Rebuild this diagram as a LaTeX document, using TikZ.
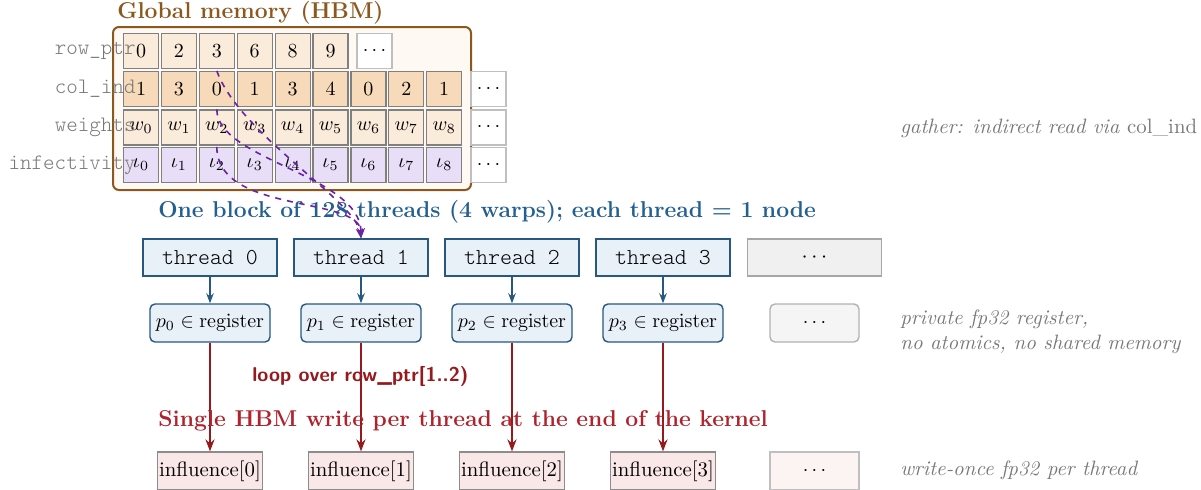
\documentclass[tikz,border=0pt]{standalone}
\usetikzlibrary{arrows.meta}

\definecolor{hbmbrown}{RGB}{140,88,30}
\definecolor{hbmfill}{RGB}{254,249,243}
\definecolor{ptrfill}{RGB}{250,235,218}
\definecolor{colfill}{RGB}{247,218,186}
\definecolor{inffill}{RGB}{233,222,248}
\definecolor{cellgray}{RGB}{128,128,128}
\definecolor{thrblue}{RGB}{38,88,128}
\definecolor{thrfill}{RGB}{232,240,248}
\definecolor{titleblue}{RGB}{35,95,145}
\definecolor{writered}{RGB}{150,25,30}
\definecolor{titlered}{RGB}{175,35,45}
\definecolor{gatherpurple}{RGB}{105,35,165}
\definecolor{notegray}{RGB}{120,120,120}
\definecolor{outfill}{RGB}{250,232,232}

\newcommand{\lighttt}{\ttfamily\fontseries{l}\selectfont}

\begin{document}
\fontsize{10.4}{12.5}\selectfont
\begin{tikzpicture}[x=0.5pt, y=-0.5pt,
		cell/.style={draw=cellgray, line width=0.6pt, minimum width=17.5pt, minimum height=17.5pt, inner sep=0pt},
		dotcell/.style={draw=black!25, fill=white, line width=0.6pt, minimum width=17.5pt, minimum height=17.5pt, inner sep=0pt},
		rowlabel/.style={anchor=east, inner sep=0pt, text=notegray, font=\fontsize{11}{13}\lighttt},
		thread/.style={draw=thrblue, fill=thrfill, line width=0.7pt, minimum width=67pt, minimum height=18.5pt, font=\fontsize{11.4}{13}\lighttt},
		reg/.style={draw=thrblue, fill=thrfill, rounded corners=2.5pt, line width=0.7pt, minimum width=60pt, minimum height=19pt, inner sep=1pt},
		outbox/.style={draw=black!45, fill=outfill, line width=0.6pt, minimum width=52.5pt, minimum height=19pt, inner sep=1pt},
		note/.style={anchor=west, text=notegray, font=\fontsize{10.4}{12.5}\itshape, align=left},
		heading/.style={anchor=west, font=\fontsize{11.45}{13.5}\selectfont\bfseries},
		gather/.style={gatherpurple, dashed, line width=0.8pt, -{Stealth[length=5pt]}}]
	\useasboundingbox (0,0) rectangle (1201,489);

	\draw [hbmbrown, fill=hbmfill, rounded corners=3pt, line width=1pt] (113,27) rectangle (471,190);
	\node [heading, text=hbmbrown] (hbm) at (110,13) {Global memory (HBM)};

	\foreach \v [count=\i from 0] in {0,2,3,6,8,9}
		\node [cell, fill=ptrfill] (rp\i) at (141+37.9*\i, 51) {$\v$};
	\foreach \v [count=\i from 0] in {1,3,0,1,3,4,0,2,1}
		\node [cell, fill=colfill] (ci\i) at (141+37.9*\i, 89) {$\v$};
	\foreach \i in {0,...,8}
		\node [cell, fill=ptrfill] (wt\i) at (141+37.9*\i, 127.5) {$w_{\i}$};
	\foreach \i in {0,...,8}
		\node [cell, fill=inffill] (in\i) at (141+37.9*\i, 165) {$\iota_{\i}$};

	\node [dotcell] (rpdots) at (374.5, 51) {$\cdots$};
	\node [dotcell] (cidots) at (488.5, 89) {$\cdots$};
	\node [dotcell] (wtdots) at (488.5, 127.5) {$\cdots$};
	\node [dotcell] (indots) at (488.5, 165) {$\cdots$};

	\node [rowlabel] (lrp) at (136, 51) {row\_ptr};
	\node [rowlabel] (lci) at (136, 89) {col\_ind};
	\node [rowlabel] (lwt) at (136, 127.5) {weights};
	\node [rowlabel] (lin) at (136, 165) {infectivity};

	\node [note] (gnote) at (893, 128) {gather: indirect read via \textup{col\_ind}};

	\node [heading, text=titleblue] (blk) at (151, 212) {One block of 128 threads (4 warps); each thread = 1 node};

	\foreach \i in {0,...,3} {
		\node [thread] (t\i) at (210+151*\i, 257.5) {thread \i};
		\node [reg] (r\i) at (210+151*\i, 323) {$p_{\i} \in \mathrm{register}$};
		\node [outbox] (o\i) at (210+151*\i, 471) {influence[\i]};
		\draw [thrblue, line width=0.8pt, -{Stealth[length=5pt]}] (t\i) -- (r\i);
		\draw [writered, line width=1.2pt, -{Stealth[length=6pt]}] (r\i) -- (o\i);
	}
	\node [thread, draw=black!35, fill=black!6] (tdots) at (814.5, 257.5) {$\cdots$};
	\node [reg, draw=black!30, fill=black!4, minimum width=44.5pt] (rdots) at (814.5, 323) {$\cdots$};
	\node [outbox, draw=black!25, fill=outfill!50, minimum width=44.5pt] (odots) at (814.5, 471) {$\cdots$};

	\draw [gather] (ci2.north) .. controls (240,135) and (355,200) .. (t1.north);
	\draw [gather] (wt2.north) .. controls (217,160) and (361,175) .. (t1.north);
	\draw [gather] (in2.north) .. controls (217,215) and (361,195) .. (t1.north);

	\node [note] (rnote) at (893, 332) {private fp32 register,\\no atomics, no shared memory};
	\node [anchor=west, text=writered, font=\fontsize{10}{12}\sffamily\bfseries] (loop) at (245, 376) {loop over row\_ptr[1..2)};
	\node [heading, text=titlered] (single) at (151, 421) {Single HBM write per thread at the end of the kernel};
	\node [note] (wnote) at (893, 470) {write-once fp32 per thread};
\end{tikzpicture}
\end{document}
